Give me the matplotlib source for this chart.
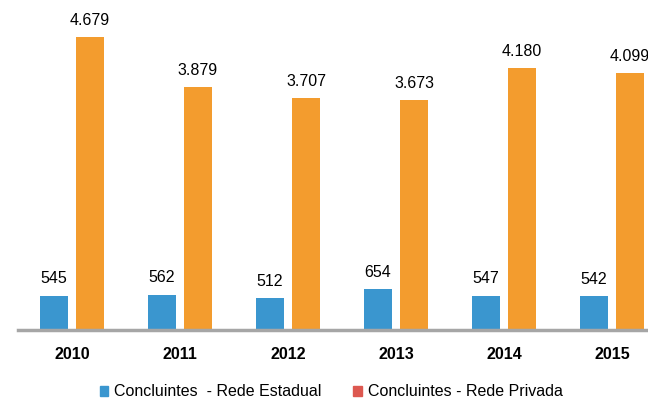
import matplotlib
matplotlib.use("Agg")
import matplotlib.pyplot as plt
import numpy as np
from matplotlib.patches import Patch

years = ["2010", "2011", "2012", "2013", "2014", "2015"]
estadual = [545, 562, 512, 654, 547, 542]
privada = [4679, 3879, 3707, 3673, 4180, 4099]
estadual_labels = ["545", "562", "512", "654", "547", "542"]
privada_labels = ["4.679", "3.879", "3.707", "3.673", "4.180", "4.099"]

plt.rcParams['font.family'] = ['Liberation Sans', 'DejaVu Sans']

c_blue = "#3A96CF"
c_orange = "#F39C2E"
c_red = "#DD5850"

fig = plt.figure(figsize=(6.48, 4.0), dpi=100)
ax = fig.add_axes([18/648, 70/400, 648/648, 313/400])
x = np.arange(len(years))
w = 0.26
off = 18/108
ax.bar(x - off, estadual, w, color=c_blue)
ax.bar(x + off, privada, w, color=c_orange)
for xi, v, l in zip(x, estadual, estadual_labels):
    ax.text(xi - off, v + 150, l, ha='center', va='bottom', fontsize=11.5)
for xi, v, l in zip(x, privada, privada_labels):
    ax.text(xi + off, v + 150, l, ha='center', va='bottom', fontsize=11.5)

ax.set_xlim(-0.5, len(years) - 0.5)
ax.set_ylim(0, 5000)
ax.set_xticks(x)
ax.set_xticklabels(years, fontsize=11.5, fontweight='bold')
ax.tick_params(axis='x', length=0, pad=12)
ax.set_yticks([])
for s in ['top', 'right', 'left']:
    ax.spines[s].set_visible(False)
ax.spines['bottom'].set_color('#A6A6A6')
ax.spines['bottom'].set_linewidth(2.5)

handles = [Patch(color=c_blue), Patch(color=c_red)]
fig.legend(handles, ["Concluintes  - Rede Estadual", "Concluintes - Rede Privada"],
           loc='center', bbox_to_anchor=(331/648, 1 - 392/400), ncol=2, frameon=False,
           fontsize=11.5, handlelength=0.55, handleheight=0.55, handletextpad=0.35,
           columnspacing=2.0, borderpad=0.1)

fig.savefig("out.png", dpi=100)
